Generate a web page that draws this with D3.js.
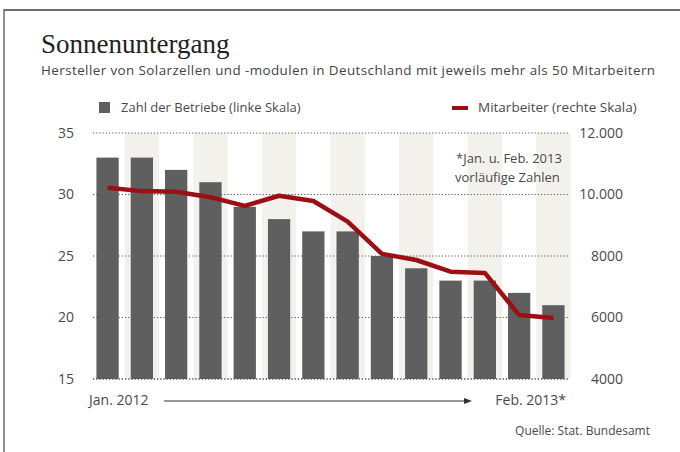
<!DOCTYPE html>
<html>
<head>
<meta charset="utf-8">
<script src="https://cdn.jsdelivr.net/npm/d3@7"></script>
<style>
body { margin: 0; background: #fff; }
svg { display: block; }
text { font-family: "Open Sans", sans-serif; fill: #4a4a4a; }
</style>
</head>
<body>
<div id="chart"></div>
<script>
// monthly values Jan. 2012 .. Feb. 2013
var months = ["Jan12","Feb12","Mar12","Apr12","May12","Jun12","Jul12","Aug12","Sep12","Oct12","Nov12","Dec12","Jan13","Feb13"];
var betriebe = [33, 33, 32, 31, 29, 28, 27, 27, 25, 24, 23, 23, 22, 21];
var mitarbeiter = [10220, 10110, 10090, 9910, 9630, 9960, 9790, 9120, 8070, 7870, 7490, 7450, 6080, 5980];
var leftTicks = [15, 20, 25, 30, 35];
var rightTicks = [4000, 6000, 8000, 10000, 12000];
var rightLabels = ["4000", "6000", "8000", "10.000", "12.000"];

var width = 680, height = 452;
var svg = d3.select("#chart").append("svg").attr("width", width).attr("height", height);

//frame lines
svg.append("line").attr("x1", 4).attr("x2", width).attr("y1", 10).attr("y2", 10)
	.attr("stroke", "#6a6a6a").attr("stroke-width", 2);
svg.append("line").attr("x1", 4).attr("x2", 4).attr("y1", 9).attr("y2", height)
	.attr("stroke", "#6a6a6a").attr("stroke-width", 1.5);

//title and subtitle
svg.append("text").attr("x", 41).attr("y", 53)
	.style("font-family", "'Liberation Serif', 'DejaVu Serif', serif")
	.style("font-size", "27px").style("fill", "#222")
	.text("Sonnenuntergang");
svg.append("text").attr("x", 41).attr("y", 75)
	.style("font-size", "13.4px").style("fill", "#444")
	.attr("textLength", 614).attr("lengthAdjust", "spacing")
	.text("Hersteller von Solarzellen und -modulen in Deutschland mit jeweils mehr als 50 Mitarbeitern");

//scales
var x = d3.scaleBand().domain(months).range([93, 568]).paddingInner(0.35).paddingOuter(0.1);
var yLeft = d3.scaleLinear().domain([15, 35]).range([379, 133]);
var yRight = d3.scaleLinear().domain([4000, 12000]).range([379, 133]);

//shaded columns behind every second month
var step = x.step();
svg.selectAll("rect.band").data(months.filter(function (d, i) { return i % 2 == 1; })).enter().append("rect")
	.attr("class", "band")
	.attr("x", function (d) { return x(d) + x.bandwidth() / 2 - step / 2; })
	.attr("width", step)
	.attr("y", yLeft(35))
	.attr("height", yLeft(15) - yLeft(35))
	.attr("fill", "#f3f1ec");

//dotted gridlines
svg.selectAll("line.grid").data(leftTicks).enter().append("line")
	.attr("class", "grid")
	.attr("x1", 93).attr("x2", 568)
	.attr("y1", function (d) { return yLeft(d); })
	.attr("y2", function (d) { return yLeft(d); })
	.attr("stroke", "#555").attr("stroke-width", 1.2).attr("stroke-dasharray", "1.2,2");

//bars
svg.selectAll("rect.bar").data(betriebe).enter().append("rect")
	.attr("class", "bar")
	.attr("x", function (d, i) { return x(months[i]); })
	.attr("width", x.bandwidth())
	.attr("y", function (d) { return yLeft(d); })
	.attr("height", function (d) { return yLeft(15) - yLeft(d); })
	.attr("fill", "#5f5f5f");

//bottom dotted line drawn again over the bars
svg.append("line").attr("x1", 93).attr("x2", 568).attr("y1", yLeft(15)).attr("y2", yLeft(15))
	.attr("stroke", "#555").attr("stroke-width", 1.2).attr("stroke-dasharray", "1.2,2");

//employees line
var line = d3.line()
	.x(function (d, i) { return x(months[i]) + x.bandwidth() / 2; })
	.y(function (d) { return yRight(d); });
svg.append("path").datum(mitarbeiter)
	.attr("d", line)
	.attr("fill", "none")
	.attr("stroke", "#9c0f14")
	.attr("stroke-width", 4.5)
	.attr("stroke-linejoin", "round");

//axes
var leftAxis = d3.axisLeft(yLeft).tickValues(leftTicks).tickSize(0).tickPadding(0);
var gL = svg.append("g").attr("transform", "translate(74,0)").call(leftAxis);
var rightAxis = d3.axisRight(yRight).tickValues(rightTicks).tickSize(0).tickPadding(0)
	.tickFormat(function (d, i) { return rightLabels[i]; });
var gR = svg.append("g").attr("transform", "translate(578,0)").call(rightAxis);
[gL, gR].forEach(function (g) {
	g.select(".domain").remove();
	g.selectAll("text").style("font-family", "'Open Sans', sans-serif").style("font-size", "14px").style("fill", "#4a4a4a");
});
gR.selectAll("text").attr("text-anchor", "end").attr("x", 45);

//legend
svg.append("rect").attr("x", 99).attr("y", 102).attr("width", 11).attr("height", 11).attr("fill", "#5f5f5f");
svg.append("text").attr("x", 121).attr("y", 112).style("font-size", "13px").text("Zahl der Betriebe (linke Skala)");
svg.append("line").attr("x1", 452).attr("x2", 468).attr("y1", 108).attr("y2", 108)
	.attr("stroke", "#9c0f14").attr("stroke-width", 4);
svg.append("text").attr("x", 478).attr("y", 112).style("font-size", "13.5px").text("Mitarbeiter (rechte Skala)");

//footnote
svg.append("text").attr("x", 456).attr("y", 163).style("font-size", "13px").text("*Jan. u. Feb. 2013");
svg.append("text").attr("x", 455).attr("y", 182).style("font-size", "13px").text("vorläufige Zahlen");

//time arrow
svg.append("text").attr("x", 89).attr("y", 405).style("font-size", "14px").text("Jan. 2012");
svg.append("line").attr("x1", 164).attr("x2", 466).attr("y1", 401).attr("y2", 401)
	.attr("stroke", "#333").attr("stroke-width", 1);
svg.append("path").attr("d", "M472,401 L464,398 L464,404 Z").attr("fill", "#333");
svg.append("text").attr("x", 566).attr("y", 405).attr("text-anchor", "end").style("font-size", "14px").text("Feb. 2013*");

//source
svg.append("text").attr("x", 650).attr("y", 435).attr("text-anchor", "end").style("font-size", "12px").text("Quelle: Stat. Bundesamt");
</script>
</body>
</html>
